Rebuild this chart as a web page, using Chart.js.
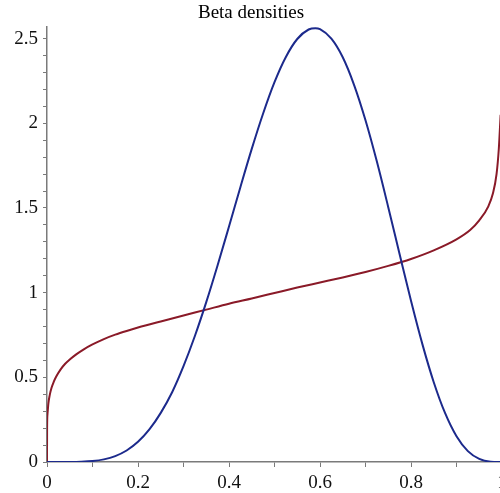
<!DOCTYPE html>
<html lang="en">

<head>
    <meta charset="UTF-8">
    <title>Beta densities</title>
    <script src="https://cdn.jsdelivr.net/npm/chart.js"></script>
    <style>
        html, body { margin: 0; padding: 0; overflow: hidden; background: #fff; }
        #chart { display: block; }
    </style>
</head>

<body>
    <canvas id="chart" width="512" height="493"></canvas>

    <script>
        // values (smoothed by eye)
        const blueX = [0, 0.025, 0.05, 0.075, 0.1, 0.125, 0.15, 0.175, 0.2, 0.225, 0.25, 0.275, 0.3, 0.325, 0.35,
            0.375, 0.4, 0.425, 0.45, 0.475, 0.5, 0.525, 0.55, 0.575, 0.59, 0.6, 0.625, 0.65, 0.675, 0.7, 0.725,
            0.75, 0.775, 0.8, 0.825, 0.85, 0.875, 0.9, 0.925, 0.95, 0.975, 1];
        const blueY = [0, 0, 0.0002, 0.0015, 0.0056, 0.0155, 0.035, 0.068, 0.119, 0.192, 0.29, 0.412, 0.566, 0.744, 0.944,
            1.162, 1.391, 1.623, 1.849, 2.058, 2.243, 2.392, 2.498, 2.554, 2.562, 2.556, 2.5, 2.39, 2.226, 2.018, 1.774,
            1.505, 1.227, 0.952, 0.696, 0.471, 0.288, 0.152, 0.064, 0.018, 0.002, 0];

        const redX = [0, 0.0002, 0.001, 0.003, 0.006, 0.01, 0.015, 0.02, 0.03, 0.04, 0.05, 0.065, 0.08, 0.1, 0.125,
            0.15, 0.175, 0.2, 0.25, 0.3, 0.35, 0.4, 0.45, 0.5, 0.55, 0.6, 0.65, 0.7, 0.75, 0.8, 0.85, 0.9, 0.93,
            0.95, 0.97, 0.98, 0.988, 0.993, 0.997];
        const redY = [0, 0.2, 0.28, 0.345, 0.395, 0.438, 0.474, 0.503, 0.547, 0.58, 0.605, 0.637, 0.664, 0.694, 0.726,
            0.752, 0.774, 0.794, 0.83, 0.865, 0.9, 0.935, 0.966, 0.998, 1.03, 1.06, 1.09, 1.122, 1.158, 1.199, 1.25,
            1.315, 1.37, 1.427, 1.51, 1.585, 1.7, 1.85, 2.05];

        const xLabels = { 0: '0', 2: '0.2', 4: '0.4', 6: '0.6', 8: '0.8', 10: '1' };
        const yLabels = { 0: '0', 5: '0.5', 10: '1', 15: '1.5', 20: '2', 25: '2.5' };

        const toPoints = (xs, ys) => xs.map((x, i) => ({ x: x, y: ys[i] }));

        const serif = 'Liberation Serif, Times New Roman, serif';
        const axisColor = '#7a7a7a';

        new Chart(document.getElementById('chart'), {
            type: 'line',
            data: {
                datasets: [{
                    data: toPoints(blueX, blueY),
                    borderColor: '#1c2a8c',
                    borderWidth: 2,
                    pointRadius: 0,
                    cubicInterpolationMode: 'monotone'
                }, {
                    data: toPoints(redX, redY),
                    borderColor: '#8a1a28',
                    borderWidth: 2,
                    pointRadius: 0,
                    cubicInterpolationMode: 'monotone'
                }]
            },
            options: {
                responsive: false,
                animation: false,
                layout: { padding: { right: 10 } },
                plugins: {
                    legend: { display: false },
                    tooltip: { enabled: false },
                    title: {
                        display: true,
                        text: 'Beta densities',
                        color: '#000',
                        font: { family: serif, size: 19, weight: 'normal' },
                        padding: { top: 2, bottom: 2 }
                    }
                },
                scales: {
                    x: {
                        type: 'linear',
                        min: 0,
                        max: 1,
                        grid: { drawOnChartArea: false, tickLength: 5, color: axisColor },
                        border: { color: axisColor, width: 1.5 },
                        ticks: {
                            stepSize: 0.1,
                            maxRotation: 0,
                            autoSkip: false,
                            color: '#111',
                            padding: 5,
                            font: { family: serif, size: 19 },
                            callback: (v) => xLabels[Math.round(v * 10)] ?? ''
                        },
                        afterFit: (scale) => { scale.height = 31; }
                    },
                    y: {
                        min: 0,
                        max: 2.57,
                        grid: { drawOnChartArea: false, tickLength: 4, color: axisColor },
                        border: { color: axisColor, width: 1.5 },
                        ticks: {
                            stepSize: 0.1,
                            includeBounds: false,
                            autoSkip: false,
                            color: '#111',
                            padding: 5,
                            font: { family: serif, size: 19 },
                            callback: (v) => yLabels[Math.round(v * 10)] ?? ''
                        },
                        afterFit: (scale) => { scale.width = 47; }
                    }
                }
            }
        });
    </script>
</body>

</html>
